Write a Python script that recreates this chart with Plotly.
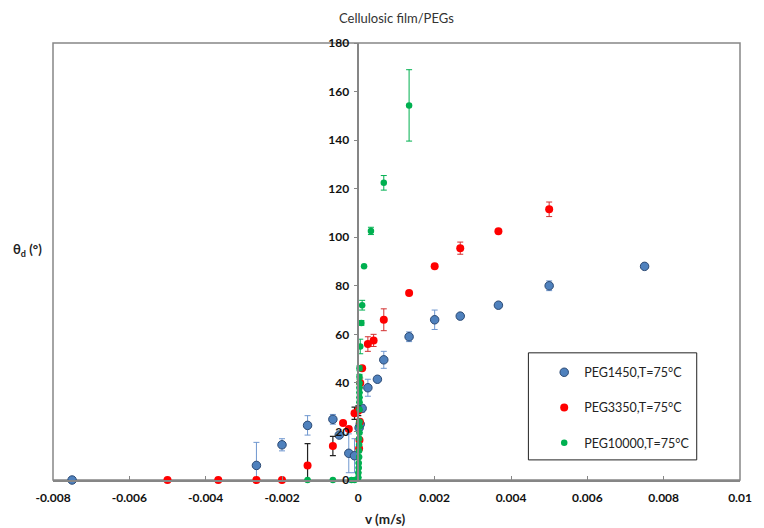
import plotly.graph_objects as go

# ---------------- data ----------------
x_ticks = [-0.008, -0.006, -0.004, -0.002, 0, 0.002, 0.004, 0.006, 0.008, 0.01]
x_tick_text = ["-0.008", "-0.006", "-0.004", "-0.002", "0", "0.002", "0.004", "0.006", "0.008", "0.01"]
y_ticks = [0, 20, 40, 60, 80, 100, 120, 140, 160, 180]

# PEG1450
v_1450 = [-0.0075, -0.00267, -0.002, -0.00133, -0.000667, -0.0005, -0.00025, -0.0001,
          0.00002, 0.00005, 0.0001, 0.00025, 0.0005, 0.000667, 0.00133, 0.002,
          0.00267, 0.00367, 0.005, 0.0075]
th_1450 = [0, 6, 14.5, 22.5, 25, 18.5, 11, 10,
           21.5, 23, 29.5, 38, 41.5, 49.5, 59, 66,
           67.5, 72, 80, 88]
err_1450 = [0, 9.5, 2.5, 4, 2, 1, 8, 7,
            1.5, 1, 1.5, 3.5, 0.5, 3.5, 2, 4,
            0.5, 0.5, 2, 0.5]

# PEG3350
v_3350 = [-0.005, -0.00367, -0.00267, -0.002, -0.00133, -0.000667, -0.0004, -0.00025, -0.0001,
          0.0, 0.00002, 0.00003, 0.00004, 0.00005, 0.0001, 0.00025, 0.0004, 0.000667,
          0.00133, 0.002, 0.00267, 0.00367, 0.005]
th_3350 = [0, 0, 0, 0, 6, 14, 23.5, 21, 27.5,
           28.5, 13, 16.5, 24, 40, 46, 56, 57.5, 66,
           77, 88, 95.5, 102.5, 111.5]
err_3350 = [0, 0, 0, 0, 0, 0, 0.5, 1, 0,
            0, 0, 0, 0, 2, 0, 3, 2.5, 4.5,
            0.5, 0.5, 2.5, 0.5, 3]
err_3350_black_up = [0, 0, 0, 0, 9, 4, 0, 0, 2.5,
                     2, 0, 0, 0, 0, 0, 0, 0, 0,
                     0, 0, 0, 0, 0]
err_3350_black_down = [0, 0, 0, 0, 6.2, 4, 0, 0, 2.5,
                       2, 0, 0, 0, 0, 0, 0, 0, 0,
                       0, 0, 0, 0, 0]

# PEG10000
v_10000 = [-0.00133, -0.000667, -0.00018, -0.0001,
           0.0, 0.0, 0.00001, 0.00001, 0.00002, 0.00002, 0.00002, 0.00002, 0.00003,
           0.00003, 0.00003, 0.00003, 0.00003, 0.00003, 0.00003, 0.00003, 0.00003, 0.00003,
           0.00003, 0.00005, 0.00008, 0.0001, 0.00015, 0.00033, 0.000667, 0.00133]
th_10000 = [0, 0, 0, 0,
            1, 3, 5, 7, 9.5, 12, 14.5, 17, 19.5,
            22, 24, 29, 32, 34, 36, 38, 40, 42.5,
            46, 55, 64.7, 72, 88, 102.6, 122.4, 154.3]
err_10000 = [0, 0, 0, 0,
             0, 0, 0, 0, 0, 0, 0, 0, 0,
             0, 0, 0, 0, 0, 0, 0, 0, 1,
             1, 3, 1, 2, 0, 1.5, 3, 14.7]

names = ["PEG1450,T=75°C", "PEG3350,T=75°C", "PEG10000,T=75°C"]

# ---------------- figure ----------------
FONT = "Lato, 'Open Sans', sans-serif"
AXIS = "#868686"

fig = go.Figure()

fig.add_trace(go.Scatter(
    x=v_1450, y=th_1450, mode="markers", name=names[0], legendgroup="a", cliponaxis=False,
    marker=dict(size=8.5, color="#4f81bd", line=dict(color="#2c4a74", width=1)),
    error_y=dict(type="data", array=err_1450, color="#6f97cf", thickness=1, width=3),
))

fig.add_trace(go.Scatter(
    x=v_3350, y=th_3350, mode="markers", name=names[1], legendgroup="b",
    showlegend=False, hoverinfo="skip", cliponaxis=False,
    marker=dict(size=8, color="rgba(0,0,0,0)"),
    error_y=dict(type="data", symmetric=False, array=err_3350_black_up,
                 arrayminus=err_3350_black_down, color="#222222", thickness=1.2, width=3),
))

fig.add_trace(go.Scatter(
    x=v_3350, y=th_3350, mode="markers", name=names[1], legendgroup="b", cliponaxis=False,
    marker=dict(size=8, color="#ff0000"),
    error_y=dict(type="data", array=err_3350, color="#d23030", thickness=1, width=3),
))

fig.add_trace(go.Scatter(
    x=v_10000, y=th_10000, mode="markers", name=names[2], legendgroup="c", cliponaxis=False,
    marker=dict(size=6.5, color="#00b050"),
    error_y=dict(type="data", array=err_10000, color="#00b050", thickness=1, width=3),
))

fig.update_layout(
    width=764, height=528,
    margin=dict(l=53, r=13, t=43, b=48),
    paper_bgcolor="white", plot_bgcolor="white",
    font=dict(family=FONT, size=12, color="#222222"),
    showlegend=True,
    legend=dict(x=0.715, y=0.28, xanchor="left", yanchor="top",
                bgcolor="rgba(0,0,0,0)", borderwidth=0,
                tracegroupgap=16, font=dict(size=12.5, color="#222222")),
    xaxis=dict(range=[-0.008, 0.01], tickvals=x_ticks, ticktext=x_tick_text,
               ticks="inside", ticklen=4, tickcolor=AXIS, ticklabelstandoff=6,
               showgrid=False, zeroline=False, showline=True, linecolor=AXIS, linewidth=1.5,
               tickfont=dict(family=FONT, size=12, color="#111111", weight="bold")),
    yaxis=dict(range=[0, 180], tickvals=y_ticks, anchor="free", position=0.4444,
               ticks="outside", ticklen=4, tickcolor=AXIS, ticklabelstandoff=2,
               showgrid=False, zeroline=False, showline=True, linecolor=AXIS, linewidth=1.5,
               tickfont=dict(family=FONT, size=12, color="#111111", weight="bold")),
    shapes=[
        dict(type="rect", xref="paper", yref="paper", x0=0, x1=1, y0=0, y1=1,
             line=dict(color=AXIS, width=1.5), layer="below"),
        dict(type="rect", xref="paper", yref="paper", x0=0.692, x1=0.937, y0=0.046, y1=0.291,
             line=dict(color="#222222", width=1), layer="below"),
    ],
    annotations=[
        dict(text="Cellulosic film/PEGs", xref="paper", yref="paper", x=0.5, y=1.057,
             showarrow=False, font=dict(family=FONT, size=13, color="#333333"),
             xanchor="center", yanchor="middle"),
        dict(text="<b>θ<sub>d</sub> (°)</b>", xref="paper", yref="paper", x=-0.037, y=0.526,
             showarrow=False, font=dict(family=FONT, size=13, color="#222222"),
             xanchor="center", yanchor="middle"),
        dict(text="<b>v (m/s)</b>", xref="paper", yref="paper", x=0.483, y=-0.089,
             showarrow=False, font=dict(family=FONT, size=13.5, color="#222222"),
             xanchor="center", yanchor="middle"),
    ],
)

fig.write_html("out.html", config={"displayModeBar": False},
               post_script="document.body.style.margin='0px';")
